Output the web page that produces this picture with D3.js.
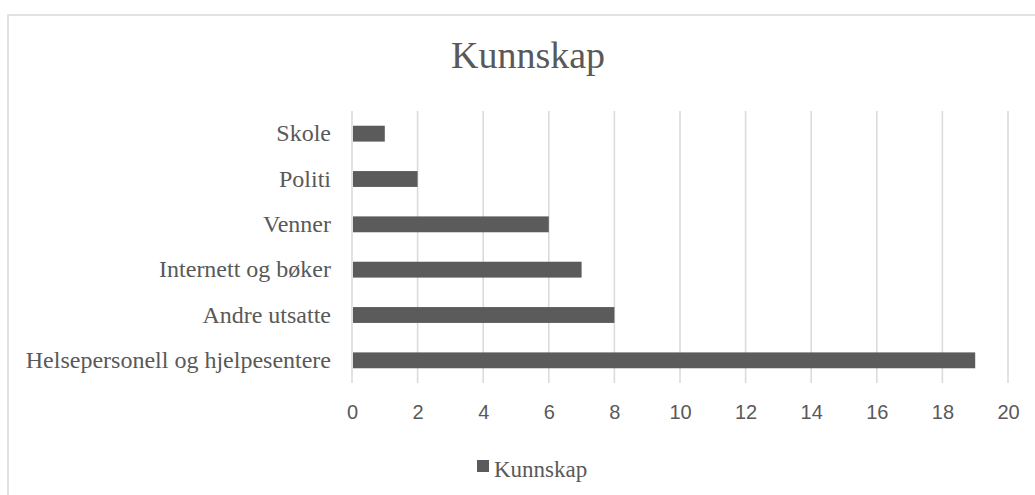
<!DOCTYPE html>
<html>
<head>
<meta charset="utf-8">
<script src="https://cdn.jsdelivr.net/npm/d3@7"></script>
<style>
  body { margin: 0; background: #fff; }
</style>
</head>
<body>
<svg width="1035" height="495"></svg>
<script>
// data
var categories = ["Skole", "Politi", "Venner", "Internett og bøker", "Andre utsatte", "Helsepersonell og hjelpesentere"];
var values = [1, 2, 6, 7, 8, 19];
var ticks = [0, 2, 4, 6, 8, 10, 12, 14, 16, 18, 20];
var seriesName = "Kunnskap";

var svg = d3.select("svg");
var grey = "#595959", gridGrey = "#d9d9d9", barGrey = "#5b5b5b";

// chart border (runs off the right and bottom edge)
svg.append("rect")
   .attr("x", 8).attr("y", 15)
   .attr("width", 1040).attr("height", 500)
   .attr("fill", "#fff")
   .attr("stroke", gridGrey)
   .attr("stroke-width", 1.5);

svg.append("text")
   .attr("x", 528).attr("y", 68)
   .attr("text-anchor", "middle")
   .attr("font-family", "'Liberation Serif', 'Times New Roman', serif")
   .attr("font-size", "38px")
   .attr("fill", grey)
   .text(seriesName);

var xScale = d3.scaleLinear().domain([0, 20]).range([352, 1008]);
var yScale = d3.scaleBand().domain(categories).range([111, 383])
               .paddingInner(0.65).paddingOuter(0.325);

// vertical gridlines
svg.append("g")
   .selectAll("line")
   .data(ticks)
   .enter().append("line")
   .attr("x1", function(d) { return xScale(d); })
   .attr("x2", function(d) { return xScale(d); })
   .attr("y1", 111).attr("y2", 383)
   .attr("stroke", gridGrey)
   .attr("stroke-width", 1.5);

// x tick labels, no axis line
var xAxis = svg.append("g")
   .attr("transform", "translate(0,383)")
   .call(d3.axisBottom(xScale).tickValues(ticks).tickSize(0).tickPadding(22));
xAxis.select(".domain").remove();
xAxis.selectAll("text")
   .attr("font-family", "'Liberation Sans Narrow', 'Liberation Sans', Arial, sans-serif")
   .attr("font-size", "20px")
   .attr("fill", grey);

// category labels
var yAxis = svg.append("g")
   .attr("transform", "translate(352,0)")
   .call(d3.axisLeft(yScale).tickSize(0).tickPadding(21));
yAxis.select(".domain").remove();
yAxis.selectAll("text")
   .attr("font-family", "'Liberation Serif', 'Times New Roman', serif")
   .attr("font-size", "24px")
   .attr("fill", grey);

// bars
svg.selectAll(".bar")
   .data(values)
   .enter().append("rect")
   .attr("class", "bar")
   .attr("x", xScale(0) + 1)
   .attr("y", function(d, i) { return yScale(categories[i]); })
   .attr("width", function(d) { return xScale(d) - xScale(0) - 1; })
   .attr("height", yScale.bandwidth())
   .attr("fill", barGrey);

// legend
var legend = svg.append("g");
legend.append("rect")
   .attr("x", 477).attr("y", 460)
   .attr("width", 12).attr("height", 12)
   .attr("fill", barGrey);
legend.append("text")
   .attr("x", 494).attr("y", 477)
   .attr("font-family", "'Liberation Serif', 'Times New Roman', serif")
   .attr("font-size", "23px")
   .attr("fill", grey)
   .text(seriesName);
</script>
</body>
</html>
